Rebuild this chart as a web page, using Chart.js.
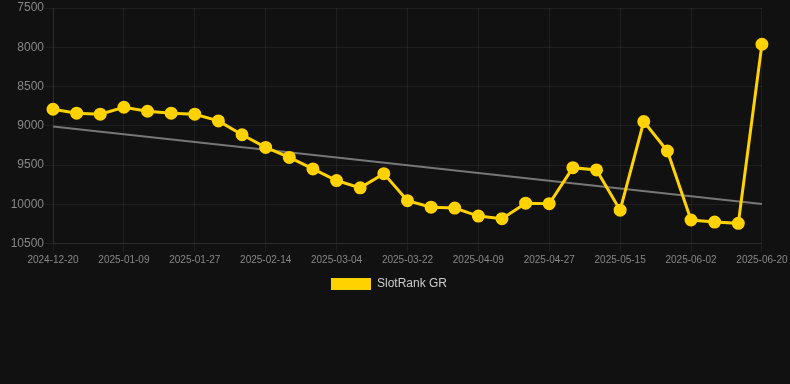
<!DOCTYPE html>
<html>
<head>
<meta charset="utf-8">
<script src="https://cdn.jsdelivr.net/npm/chart.js@4/dist/chart.umd.min.js"></script>
<style>
html,body{margin:0;padding:0;background:#111111;}
#wrap{width:790px;height:384px;position:relative;}
</style>
</head>
<body>
<div id="wrap"><canvas id="c" width="790" height="384"></canvas></div>
<script>
const dates = ["2024-12-20","2024-12-27","2025-01-03","2025-01-09","2025-01-15","2025-01-21","2025-01-27","2025-02-02","2025-02-08","2025-02-14","2025-02-20","2025-02-26","2025-03-04","2025-03-10","2025-03-16","2025-03-22","2025-03-28","2025-04-03","2025-04-09","2025-04-15","2025-04-21","2025-04-27","2025-05-03","2025-05-09","2025-05-15","2025-05-21","2025-05-27","2025-06-02","2025-06-08","2025-06-14","2025-06-20"];
const rankValues = [8790,8840,8853,8764,8815,8840,8853,8938,9115,9276,9403,9550,9698,9791,9610,9955,10037,10049,10151,10184,9986,9993,9534,9563,10075,8947,9322,10201,10227,10243,7962];
const trendStart = 9010;
const trendEnd = 9998;
const yTicks = [7500,8000,8500,9000,9500,10000,10500];
const seriesName = "SlotRank GR";

const trendValues = dates.map((d, i) => i === 0 ? trendStart : (i === dates.length - 1 ? trendEnd : null));
const FONT = 'Liberation Sans, Arial, sans-serif';

new Chart(document.getElementById('c'), {
  type: 'line',
  data: {
    labels: dates,
    datasets: [
      {
        label: seriesName,
        data: rankValues,
        borderColor: '#FFD200',
        backgroundColor: '#FFD200',
        borderWidth: 3,
        pointRadius: 5,
        pointHoverRadius: 5,
        pointBackgroundColor: '#FFD200',
        pointBorderColor: '#FFD200',
        tension: 0,
        order: 1
      },
      {
        label: 'trend',
        data: trendValues,
        spanGaps: true,
        borderColor: '#777777',
        borderWidth: 2,
        pointRadius: 0,
        fill: false,
        order: 2
      }
    ]
  },
  options: {
    responsive: false,
    animation: false,
    layout: { padding: { left: 0, right: 12, top: 0, bottom: 84 } },
    plugins: {
      legend: {
        position: 'bottom',
        labels: {
          color: '#cccccc',
          font: { family: FONT, size: 12 },
          boxWidth: 40,
          boxHeight: 12,
          generateLabels: (chart) => {
            const items = Chart.defaults.plugins.legend.labels.generateLabels(chart);
            return items.filter(it => it.text === seriesName).map(it => Object.assign(it, { lineWidth: 0 }));
          }
        }
      },
      tooltip: { enabled: false }
    },
    scales: {
      x: {
        grid: { color: 'rgba(255,255,255,0.06)', tickLength: 8 },
        border: { color: 'rgba(255,255,255,0.06)' },
        ticks: {
          color: '#888888',
          font: { family: FONT, size: 10, lineHeight: 1.15 },
          maxRotation: 0,
          autoSkip: true,
          maxTicksLimit: 11,
          padding: 2.5
        }
      },
      y: {
        reverse: true,
        min: 7500,
        max: 10500,
        afterBuildTicks: (axis) => { axis.ticks = yTicks.map(v => ({ value: v })); },
        afterFit: (axis) => { axis.width = 53; },
        grid: { color: 'rgba(255,255,255,0.06)', tickLength: 8 },
        border: { color: 'rgba(255,255,255,0.06)' },
        ticks: {
          color: '#888888',
          font: { family: FONT, size: 12, lineHeight: 1 },
          padding: 1,
          callback: (v) => String(v)
        }
      }
    }
  }
});
</script>
</body>
</html>
